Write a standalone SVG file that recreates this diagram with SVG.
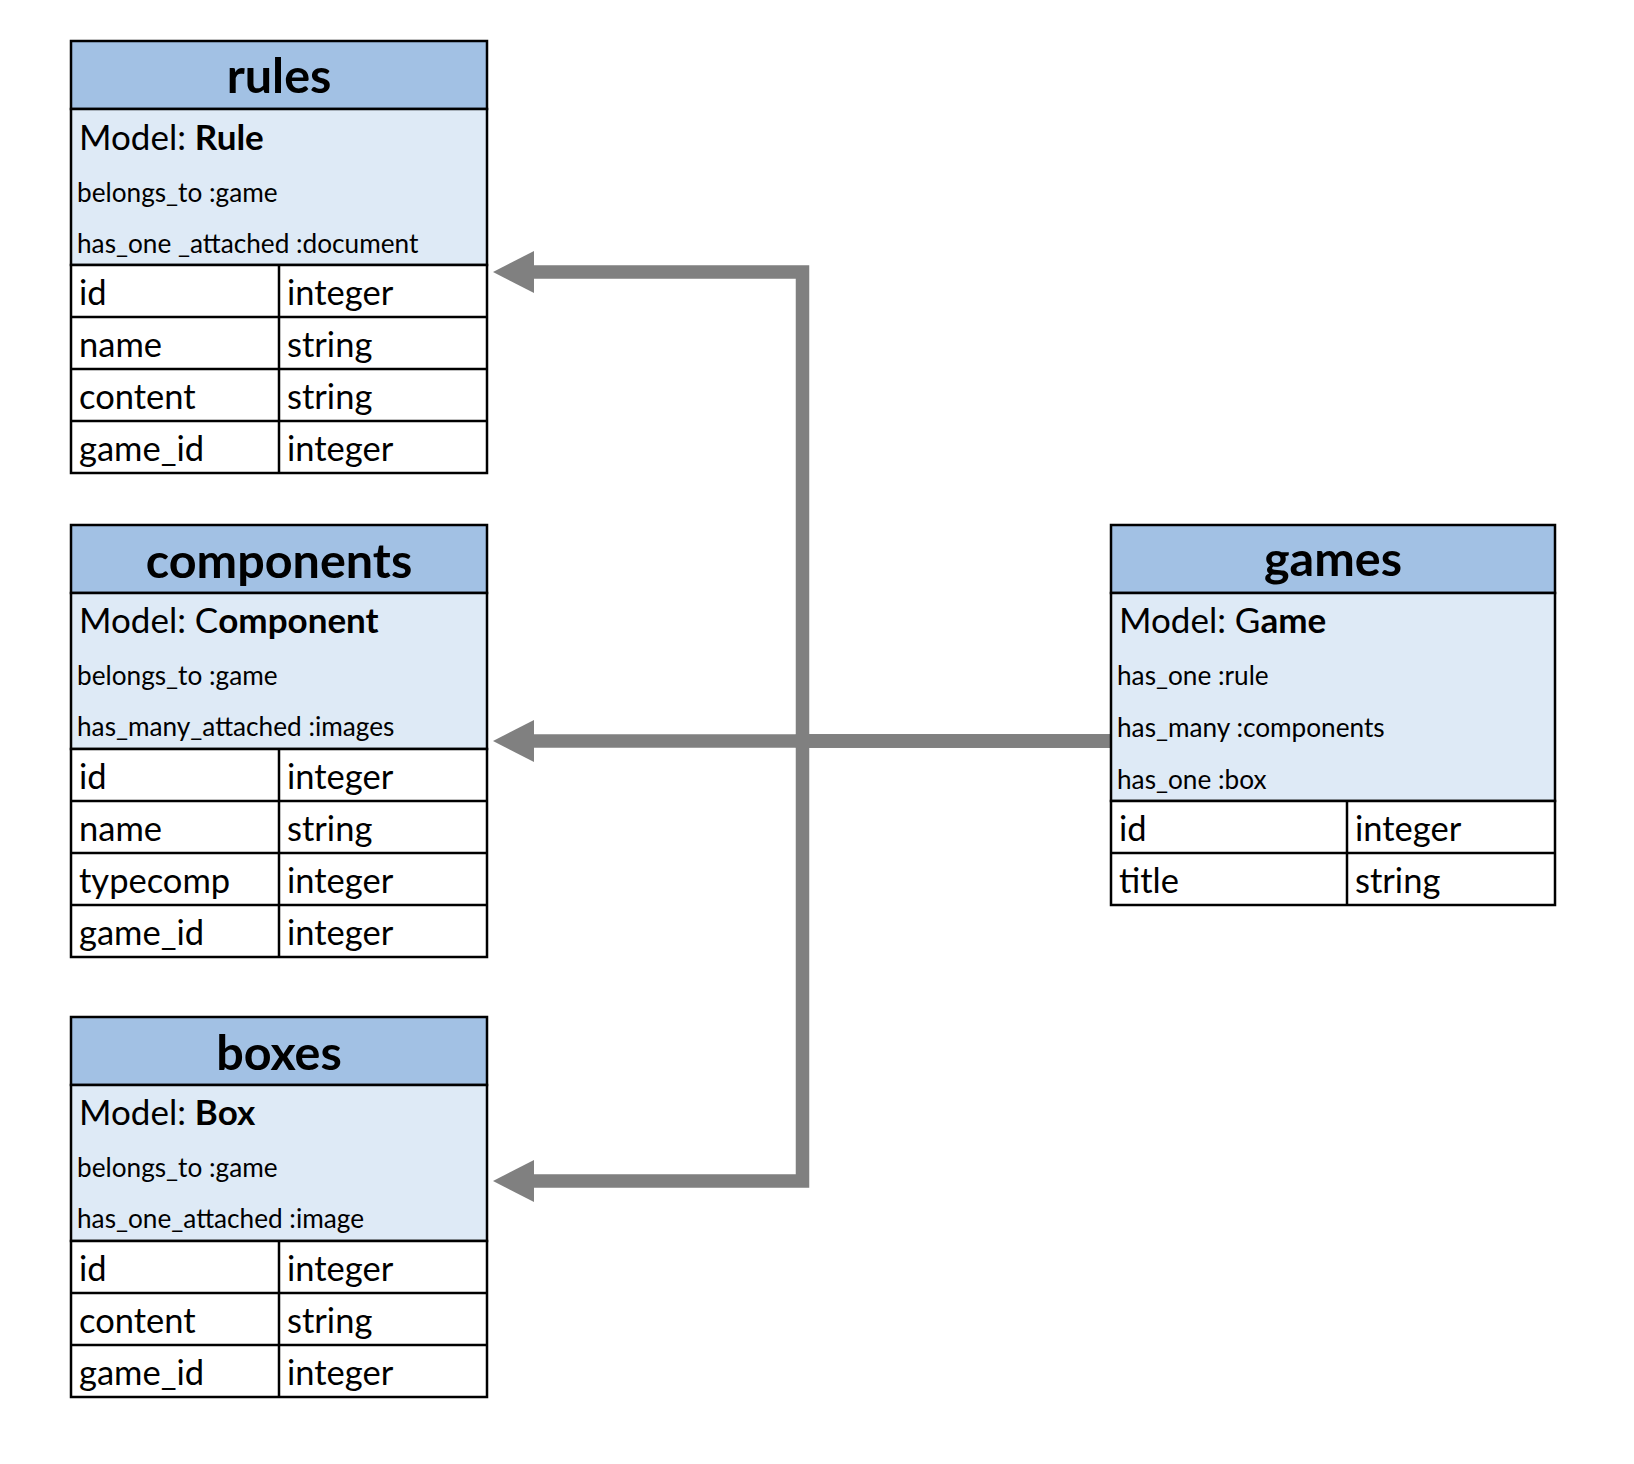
<svg xmlns="http://www.w3.org/2000/svg" width="1634" height="1464" viewBox="0 0 1634 1464">
<style>
.hd{fill:#A2C1E4;stroke:#000;stroke-width:2.5}
.md{fill:#DEEAF6;stroke:#000;stroke-width:2.5}
.rw{fill:#FFFFFF;stroke:#000;stroke-width:2.5}
.ln{stroke:#000;stroke-width:2.5}
text{font-family:Lato,"Liberation Sans",sans-serif;fill:#000}
.t{font-size:48.5px;font-weight:bold;text-anchor:middle}
.m{font-size:35px}
.b{font-weight:bold}
.s{font-size:26.2px}
.r{font-size:34.5px}
.cn{fill:none;stroke:#808080;stroke-width:13.5;stroke-linejoin:miter}
</style>
<defs>
<marker id="ah" markerUnits="userSpaceOnUse" markerWidth="41" markerHeight="42" viewBox="0 0 41 42" refX="1" refY="21" orient="auto">
<path d="M0,0 L41,21 L0,42 Z" fill="#808080"/>
</marker>
</defs>
<g id="connectors">
<path class="cn" d="M1111,741 H802.5 V272 H533" marker-end="url(#ah)"/>
<path class="cn" d="M1111,741 H533" marker-end="url(#ah)"/>
<path class="cn" d="M1111,741 H802.5 V1181 H533" marker-end="url(#ah)"/>
</g>
<g id="rules">
<rect class="hd" x="71" y="41" width="416" height="68"/>
<rect class="md" x="71" y="109" width="416" height="156"/>
<rect class="rw" x="71" y="265" width="416" height="208"/>
<line class="ln" x1="71" y1="317" x2="487" y2="317"/>
<line class="ln" x1="71" y1="369" x2="487" y2="369"/>
<line class="ln" x1="71" y1="421" x2="487" y2="421"/>
<line class="ln" x1="279" y1="265" x2="279" y2="473"/>
<text class="t" x="279" y="93">rules</text>
<text class="m" x="79" y="150">Model: <tspan class="b">Rule</tspan></text>
<text class="s" x="77" y="202">belongs_to :game</text>
<text class="s" x="77" y="253">has_one _attached :document</text>
<text class="r" x="79" y="305">id</text><text class="r" x="287" y="305">integer</text>
<text class="r" x="79" y="357">name</text><text class="r" x="287" y="357">string</text>
<text class="r" x="79" y="409">content</text><text class="r" x="287" y="409">string</text>
<text class="r" x="79" y="461">game_id</text><text class="r" x="287" y="461">integer</text>
</g>
<g id="components">
<rect class="hd" x="71" y="525" width="416" height="68"/>
<rect class="md" x="71" y="593" width="416" height="156"/>
<rect class="rw" x="71" y="749" width="416" height="208"/>
<line class="ln" x1="71" y1="801" x2="487" y2="801"/>
<line class="ln" x1="71" y1="853" x2="487" y2="853"/>
<line class="ln" x1="71" y1="905" x2="487" y2="905"/>
<line class="ln" x1="279" y1="749" x2="279" y2="957"/>
<text class="t" x="279" y="578">components</text>
<text class="m" x="79" y="633">Model: C<tspan class="b">omponent</tspan></text>
<text class="s" x="77" y="685">belongs_to :game</text>
<text class="s" x="77" y="736">has_many_attached :images</text>
<text class="r" x="79" y="789">id</text><text class="r" x="287" y="789">integer</text>
<text class="r" x="79" y="841">name</text><text class="r" x="287" y="841">string</text>
<text class="r" x="79" y="893">typecomp</text><text class="r" x="287" y="893">integer</text>
<text class="r" x="79" y="945">game_id</text><text class="r" x="287" y="945">integer</text>
</g>
<g id="boxes">
<rect class="hd" x="71" y="1017" width="416" height="68"/>
<rect class="md" x="71" y="1085" width="416" height="156"/>
<rect class="rw" x="71" y="1241" width="416" height="156"/>
<line class="ln" x1="71" y1="1293" x2="487" y2="1293"/>
<line class="ln" x1="71" y1="1345" x2="487" y2="1345"/>
<line class="ln" x1="279" y1="1241" x2="279" y2="1397"/>
<text class="t" x="279" y="1070">boxes</text>
<text class="m" x="79" y="1125">Model: <tspan class="b">Box</tspan></text>
<text class="s" x="77" y="1177">belongs_to :game</text>
<text class="s" x="77" y="1228">has_one_attached :image</text>
<text class="r" x="79" y="1281">id</text><text class="r" x="287" y="1281">integer</text>
<text class="r" x="79" y="1333">content</text><text class="r" x="287" y="1333">string</text>
<text class="r" x="79" y="1385">game_id</text><text class="r" x="287" y="1385">integer</text>
</g>
<g id="games">
<rect class="hd" x="1111" y="525" width="444" height="68"/>
<rect class="md" x="1111" y="593" width="444" height="208"/>
<rect class="rw" x="1111" y="801" width="444" height="104"/>
<line class="ln" x1="1111" y1="853" x2="1555" y2="853"/>
<line class="ln" x1="1347" y1="801" x2="1347" y2="905"/>
<text class="t" x="1333" y="576">games</text>
<text class="m" x="1119" y="633">Model: G<tspan class="b">ame</tspan></text>
<text class="s" x="1117" y="685">has_one :rule</text>
<text class="s" x="1117" y="737">has_many :components</text>
<text class="s" x="1117" y="789">has_one :box</text>
<text class="r" x="1119" y="841">id</text><text class="r" x="1355" y="841">integer</text>
<text class="r" x="1119" y="893">title</text><text class="r" x="1355" y="893">string</text>
</g>
</svg>
